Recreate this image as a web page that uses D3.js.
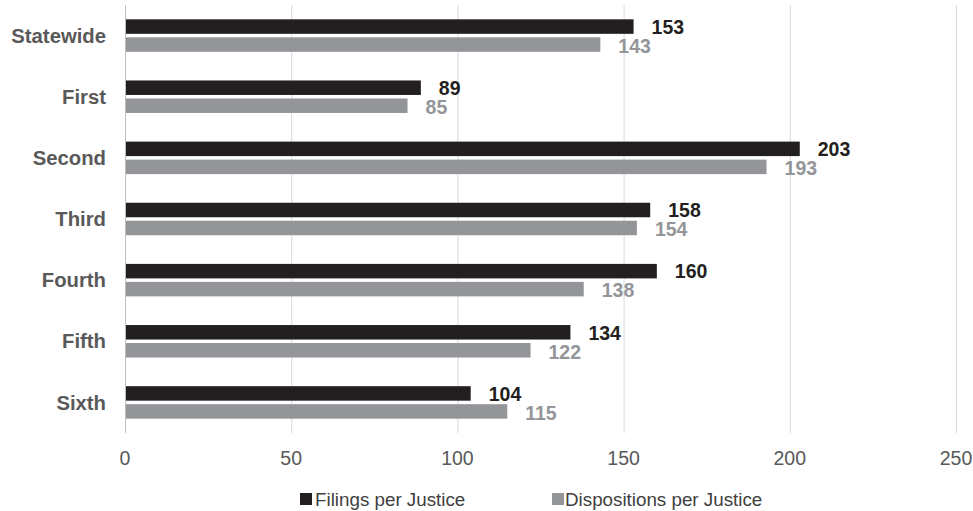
<!DOCTYPE html>
<html><head><meta charset="utf-8">
<script src="https://cdn.jsdelivr.net/npm/d3@7"></script>
<style>body{margin:0;background:#fff;} svg{display:block;font-family:"Liberation Sans",Arial,sans-serif;}</style>
</head><body><svg id="c" width="973" height="511"></svg>
<script>
const categories = ["Statewide","First","Second","Third","Fourth","Fifth","Sixth"];
const filings = [153,89,203,158,160,134,104];
const dispositions = [143,85,193,154,138,122,115];
const seriesNames = ["Filings per Justice","Dispositions per Justice"];
const xTicks = [0,50,100,150,200,250];
const colors = ["#231f20","#939598"];

const svg = d3.select("#c");
const x = d3.scaleLinear().domain([0,250]).range([125,956]);
const y = d3.scaleBand().domain(categories).range([5,433]);
const barH = 14.5, gap = 3.5;

// gridlines
svg.append("g").selectAll("line").data(xTicks.slice(1)).join("line")
  .attr("x1",d=>x(d)+0.5).attr("x2",d=>x(d)+0.5).attr("y1",5).attr("y2",433)
  .attr("stroke","#d9d9d9").attr("stroke-width",1);
svg.append("line").attr("x1",x(0)+0.5).attr("x2",x(0)+0.5).attr("y1",5).attr("y2",433)
  .attr("stroke","#bfbfbf");

const series = [filings, dispositions];
series.forEach((vals,si)=>{
  const g = svg.append("g");
  const yOff = d => y(d) + y.bandwidth()/2 - barH - gap/2 + si*(barH+gap);
  g.selectAll("rect").data(categories).join("rect")
    .attr("x",x(0)+1).attr("y",yOff)
    .attr("width",(d,i)=>x(vals[i])-x(0)-1).attr("height",barH)
    .attr("fill",colors[si]);
  g.selectAll("text").data(categories).join("text")
    .attr("x",(d,i)=>x(vals[i])+18).attr("y",d=>yOff(d)+barH/2+ (si? 1.5:0.5))
    .attr("dy","0.35em").attr("fill",colors[si])
    .attr("font-size",19.5).attr("font-weight","bold")
    .text((d,i)=>vals[i]);
});

// category labels
svg.append("g").selectAll("text").data(categories).join("text")
  .attr("x",106).attr("y",d=>y(d)+y.bandwidth()/2).attr("dy","0.35em")
  .attr("text-anchor","end").attr("font-size",20.3).attr("font-weight","bold")
  .attr("fill","#595959").text(d=>d);

// x tick labels
svg.append("g").selectAll("text").data(xTicks).join("text")
  .attr("x",d=>x(d)).attr("y",458.5).attr("dy","0.35em").attr("text-anchor","middle")
  .attr("font-size",19.5).attr("fill","#595959").text(d=>d);

// legend
const leg = [{x:300,tx:315},{x:552,tx:565}];
seriesNames.forEach((n,i)=>{
  svg.append("rect").attr("x",leg[i].x).attr("y",493).attr("width",12).attr("height",12).attr("fill",colors[i]);
  svg.append("text").attr("x",leg[i].tx).attr("y",499.5).attr("dy","0.35em")
    .attr("font-size",18.8).attr("fill","#404040").text(n);
});
</script></body></html>
